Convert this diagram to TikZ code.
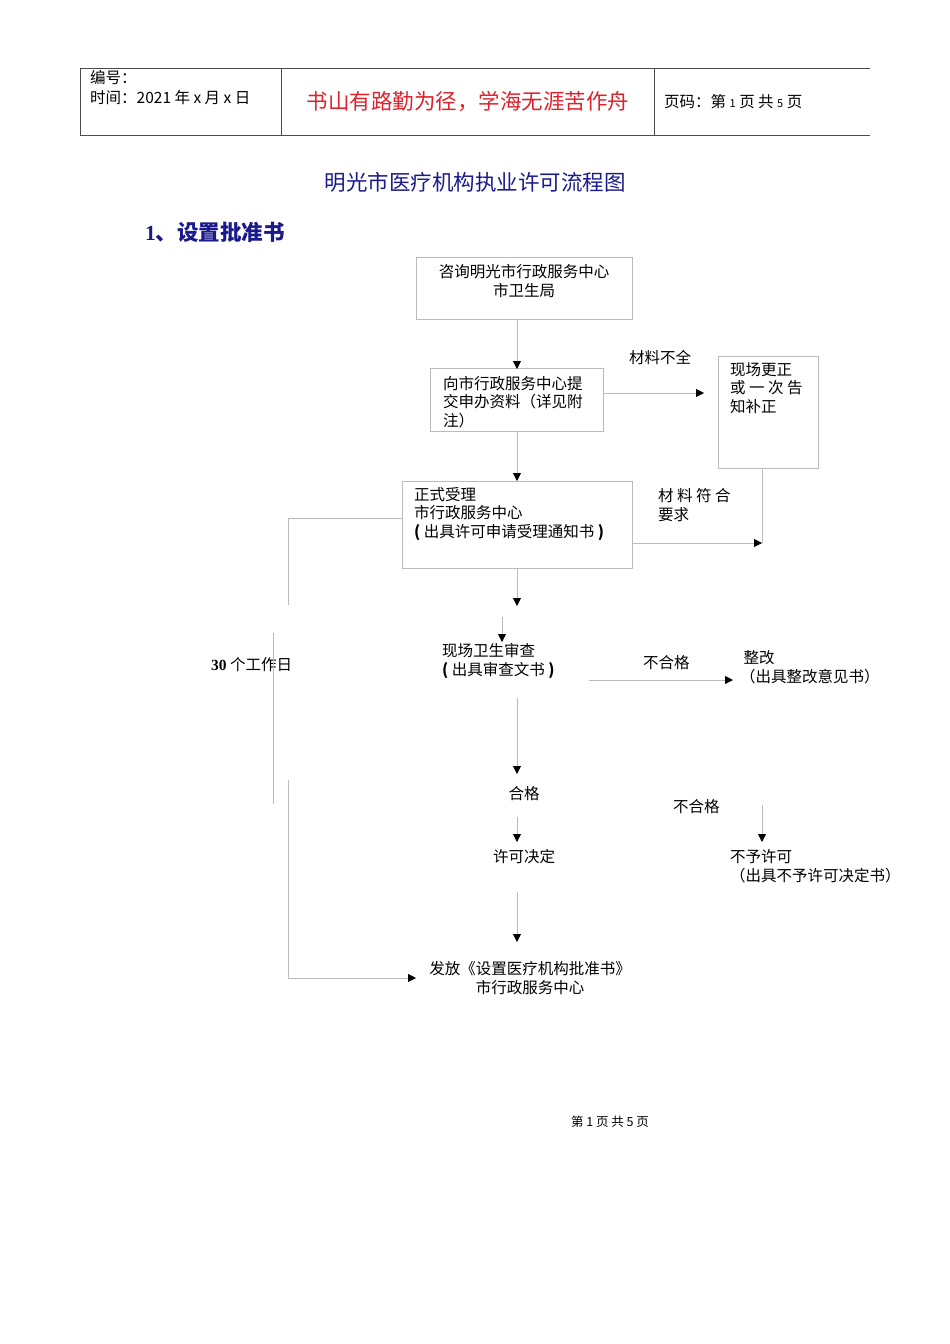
\documentclass[tikz,border=0pt]{standalone}
\usepackage{fontspec}
\setmainfont{Noto Sans CJK SC}
\newfontfamily\serifnum{Liberation Serif}
\usetikzlibrary{arrows.meta}
\definecolor{ln}{HTML}{BBBBBB}
\definecolor{navy}{HTML}{1A1A8C}
\definecolor{redt}{HTML}{E0202A}
\tikzset{
  box/.style={draw=ln, line width=0.8pt},
  arr/.style={draw=ln, line width=0.8pt, -{Triangle[length=8pt,width=8pt,color=black]}},
  gl/.style={draw=ln, line width=0.8pt},
  txt/.style={font=\fontsize{15.5}{18.5}\selectfont, inner sep=0pt, align=left, anchor=west},
  ctxt/.style={font=\fontsize{15.5}{18.5}\selectfont, inner sep=0pt, align=center}
}
\begin{document}
\begin{tikzpicture}[x=1pt,y=-1pt]
\useasboundingbox (0,0) rectangle (950,1344);
% header
\draw[black!70, line width=0.6pt] (80,68) -- (870,68) (80,135) -- (870,135)
  (80,68) -- (80,135) (281,68) -- (281,135) (654,68) -- (654,135);
\node[txt] (h1) at (90,78) {编号：};
\node[txt] (h2) at (90,98) {时间：2021 年 x 月 x 日};
\node[ctxt, text=redt, font=\fontsize{21.5}{24}\selectfont] (h3) at (468,102) {书山有路勤为径，学海无涯苦作舟};
\node[txt] (h4) at (664,102) {页码：第 {\fontsize{11}{12}\selectfont 1} 页 共 {\fontsize{11}{12}\selectfont 5} 页};
% title
\node[ctxt, text=navy, font=\fontsize{21.5}{24}\selectfont] (title) at (475,182) {明光市医疗机构执业许可流程图};
\node[txt, text=navy, font=\fontsize{21.5}{24}\selectfont\bfseries] (sec) at (145,232) {{\serifnum\bfseries 1}、设置批准书};
% boxes
\draw[box] (416,257) rectangle (632,319);
\node[ctxt] (b1) at (524,281) {咨询明光市行政服务中心\\市卫生局};
\draw[box] (430,368) rectangle (603,431);
\node[txt] (b2) at (443,402) {向市行政服务中心提\\交申办资料（详见附\\注）};
\draw[box] (718,356) rectangle (818,468);
\node[txt, anchor=north west] (b3) at (730,362) {现场更正\\或 一 次 告\\知补正};
\draw[box] (402,481) rectangle (632,568);
\node[txt] (b4) at (414,514) {正式受理\\市行政服务中心\\{\bfseries (} 出具许可申请受理通知书 {\bfseries )}};
% labels
\node[txt] (l1) at (629,358) {材料不全};
\node[txt] (l2) at (658,505) {材 料 符 合\\要求};
\node[txt] (n1) at (442,661) {现场卫生审查\\{\bfseries (} 出具审查文书 {\bfseries )}};
\node[txt] (l3) at (643,663) {不合格};
\node[txt] (n2) at (740,667) {\ 整改\\（出具整改意见书）};
\node[ctxt] (n3) at (524,794) {合格};
\node[ctxt] (n4) at (524,857) {许可决定};
\node[txt] (l4) at (673,807) {不合格};
\node[txt] (n5) at (730,866) {不予许可\\（出具不予许可决定书）};
\node[ctxt] (n6) at (530,978) {发放《设置医疗机构批准书》\\市行政服务中心};
\node[txt] (d30) at (211,665) {{\serifnum\bfseries 30} 个工作日};
\node[ctxt, font=\fontsize{12.5}{14}\selectfont] (foot) at (610,1122) {第 1 页 共 5 页};
% arrows
\draw[arr] (517,319) -- (517,369);
\draw[arr] (603,393) -- (704,393);
\draw[arr] (517,431) -- (517,481);
\draw[gl] (762,468) -- (762,543);
\draw[arr] (632,543) -- (762,543);
\draw[arr] (517,568) -- (517,606);
\draw[arr] (502,617) -- (502,642);
\draw[arr] (589,680) -- (733,680);
\draw[arr] (517,698) -- (517,774);
\draw[arr] (517,817) -- (517,842);
\draw[arr] (517,892) -- (517,942);
\draw[arr] (762,805) -- (762,842);
% left bracket
\draw[gl] (402,518) -- (288,518) -- (288,605);
\draw[gl] (273,633) -- (273,804);
\draw[arr] (288,780) -- (288,978) -- (416,978);
\end{tikzpicture}
\end{document}
